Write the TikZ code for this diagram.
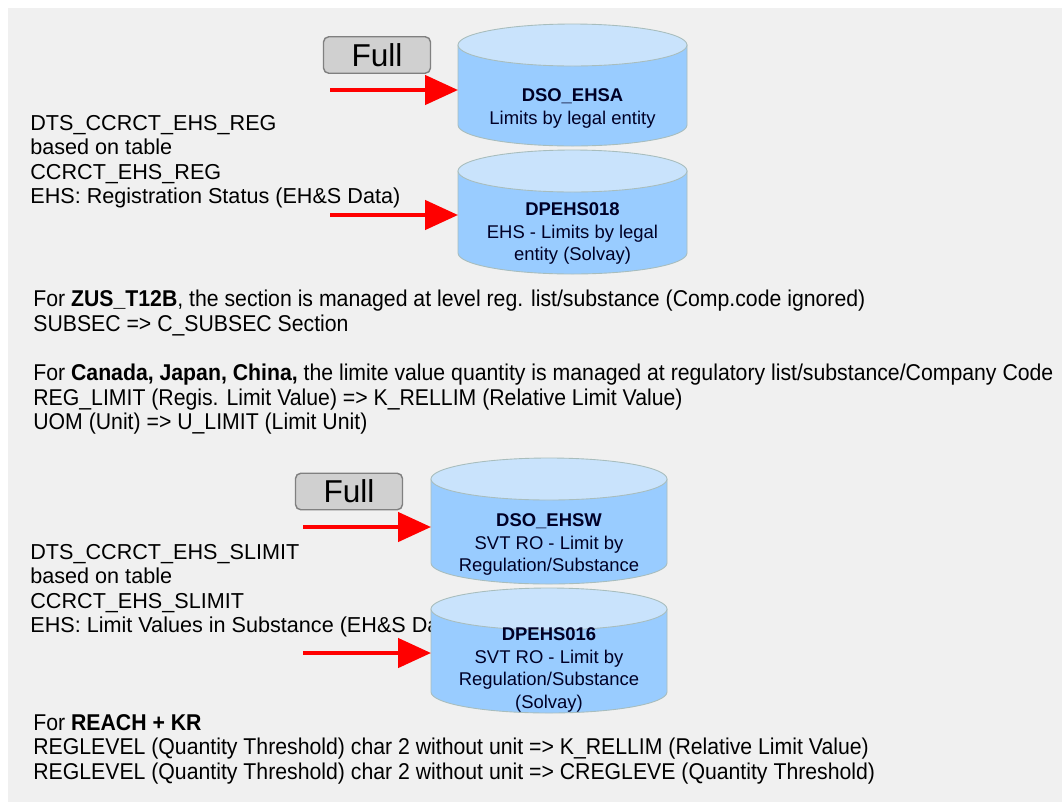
\documentclass[tikz,border=0pt]{standalone}
\usepackage{fontspec}
\setmainfont{Liberation Sans}
\newfontfamily\notefont[FakeStretch=0.93]{Liberation Sans}
\usetikzlibrary{arrows.meta,positioning,calc}

\definecolor{panelgray}{HTML}{F0F0F0}
\definecolor{drumblue}{HTML}{99CCFF}
\definecolor{drumtop}{HTML}{C9E3FC}
\definecolor{drumline}{HTML}{A8BDBD}
\definecolor{btnfill}{HTML}{D0D0D0}
\definecolor{btnline}{HTML}{808080}

% database drum: name, centre x, centre y, half width, half height (px)
\newcommand\drum[5]{%
  \filldraw[drum body] (#2-#4,#3-#5+21) -- (#2-#4,#3+#5-21) arc[start angle=180,end angle=0,x radius=#4,y radius=21] -- (#2+#4,#3-#5+21) -- cycle;
  \filldraw[drum end] (#2,#3-#5+21) ellipse[x radius=#4,y radius=21];
  \node[drum box,minimum width={#4*0.04cm},minimum height={#5*0.04cm}] (#1) at (#2,#3) {};
}

\begin{document}
\begin{tikzpicture}[x=0.02cm,y=-0.02cm,
    drum body/.style={draw=drumline,fill=drumblue,line width=0.5pt},
    drum end/.style={draw=drumline,fill=drumtop,line width=0.5pt},
    drum box/.style={inner sep=0pt,outer sep=0pt},
    drum text/.style={align=center,font=\fontsize{10.5}{13}\selectfont,text=black!85!blue},
    btn/.style={rounded corners=3pt,draw=btnline,fill=btnfill,line width=0.8pt,minimum width=2.14cm,minimum height=0.73cm,font=\fontsize{18}{20}\selectfont},
    feed/.style={-{Triangle[length=0.66cm,width=0.58cm]},red,line width=2.6pt},
    src text/.style={anchor=north west,align=left,inner sep=0pt,font=\fontsize{12.3}{13.9}\selectfont},
    note text/.style={anchor=north west,align=left,inner sep=0pt,font=\notefont\fontsize{13}{13.9}\selectfont}]
    \useasboundingbox (0,0) rectangle (1062,802);
    \fill[panelgray] (8,8) rectangle (1062,802);

    % source tables
    \node[src text] (src1) at (30,115) {DTS\_CCRCT\_EHS\_REG\\based on table\\CCRCT\_EHS\_REG\\EHS: Registration Status (EH\&S Data)};
    \node[src text] (src2) at (30,544) {DTS\_CCRCT\_EHS\_SLIMIT\\based on table\\CCRCT\_EHS\_SLIMIT\\EHS: Limit Values in Substance (EH\&S Data)};

    % registration status targets
    \node[btn] (full1) at (377,55) {Full};
    \drum{ehsa}{572.5}{85}{114.5}{61}
    \node[drum text] (ehsa label) at ($(ehsa.center)+(0,23.5)$) {\textbf{DSO\_EHSA}\\Limits by legal entity};
    \drum{eh18}{572.5}{212}{114.5}{62}
    \node[drum text] (eh18 label) at ($(eh18.center)+(0,21.5)$) {\textbf{DPEHS018}\\EHS - Limits by legal\\entity (Solvay)};

    % substance limit targets
    \node[btn] (full2) at (349,491.5) {Full};
    \drum{ehsw}{549}{521}{118}{63}
    \node[drum text] (ehsw label) at ($(ehsw.center)+(0,23.5)$) {\textbf{DSO\_EHSW}\\SVT RO - Limit by\\Regulation/Substance};
    \drum{eh16}{549}{650.5}{118}{62.5}
    \node[drum text] (eh16 label) at ($(eh16.center)+(0,19.5)$) {\textbf{DPEHS016}\\SVT RO - Limit by\\Regulation/Substance\\(Solvay)};

    \coordinate (in1) at (330,90);
    \coordinate (in2) at (330,215);
    \coordinate (in3) at (303,527);
    \coordinate (in4) at (303,653);
    \draw[feed] (in1) -- (in1 -| ehsa.west);
    \draw[feed] (in2) -- (in2 -| eh18.west);
    \draw[feed] (in3) -- (in3 -| ehsw.west);
    \draw[feed] (in4) -- (in4 -| eh16.west);

    % mapping notes
    \node[note text] (note1) at (33,290) {For \textbf{ZUS\_T12B}, the section is managed at level reg. list/substance (Comp.code ignored)\\SUBSEC => C\_SUBSEC Section};
    \node[note text] (note2) at (33,364) {For \textbf{Canada, Japan, China,} the limite value quantity is managed at regulatory list/substance/Company Code\\REG\_LIMIT (Regis. Limit Value) => K\_RELLIM (Relative Limit Value)\\UOM (Unit) => U\_LIMIT (Limit Unit)};
    \node[note text] (note3) at (33,714) {For \textbf{REACH + KR}\\REGLEVEL (Quantity Threshold) char 2 without unit => K\_RELLIM (Relative Limit Value)\\REGLEVEL (Quantity Threshold) char 2 without unit => CREGLEVE (Quantity Threshold)};
\end{tikzpicture}
\end{document}
